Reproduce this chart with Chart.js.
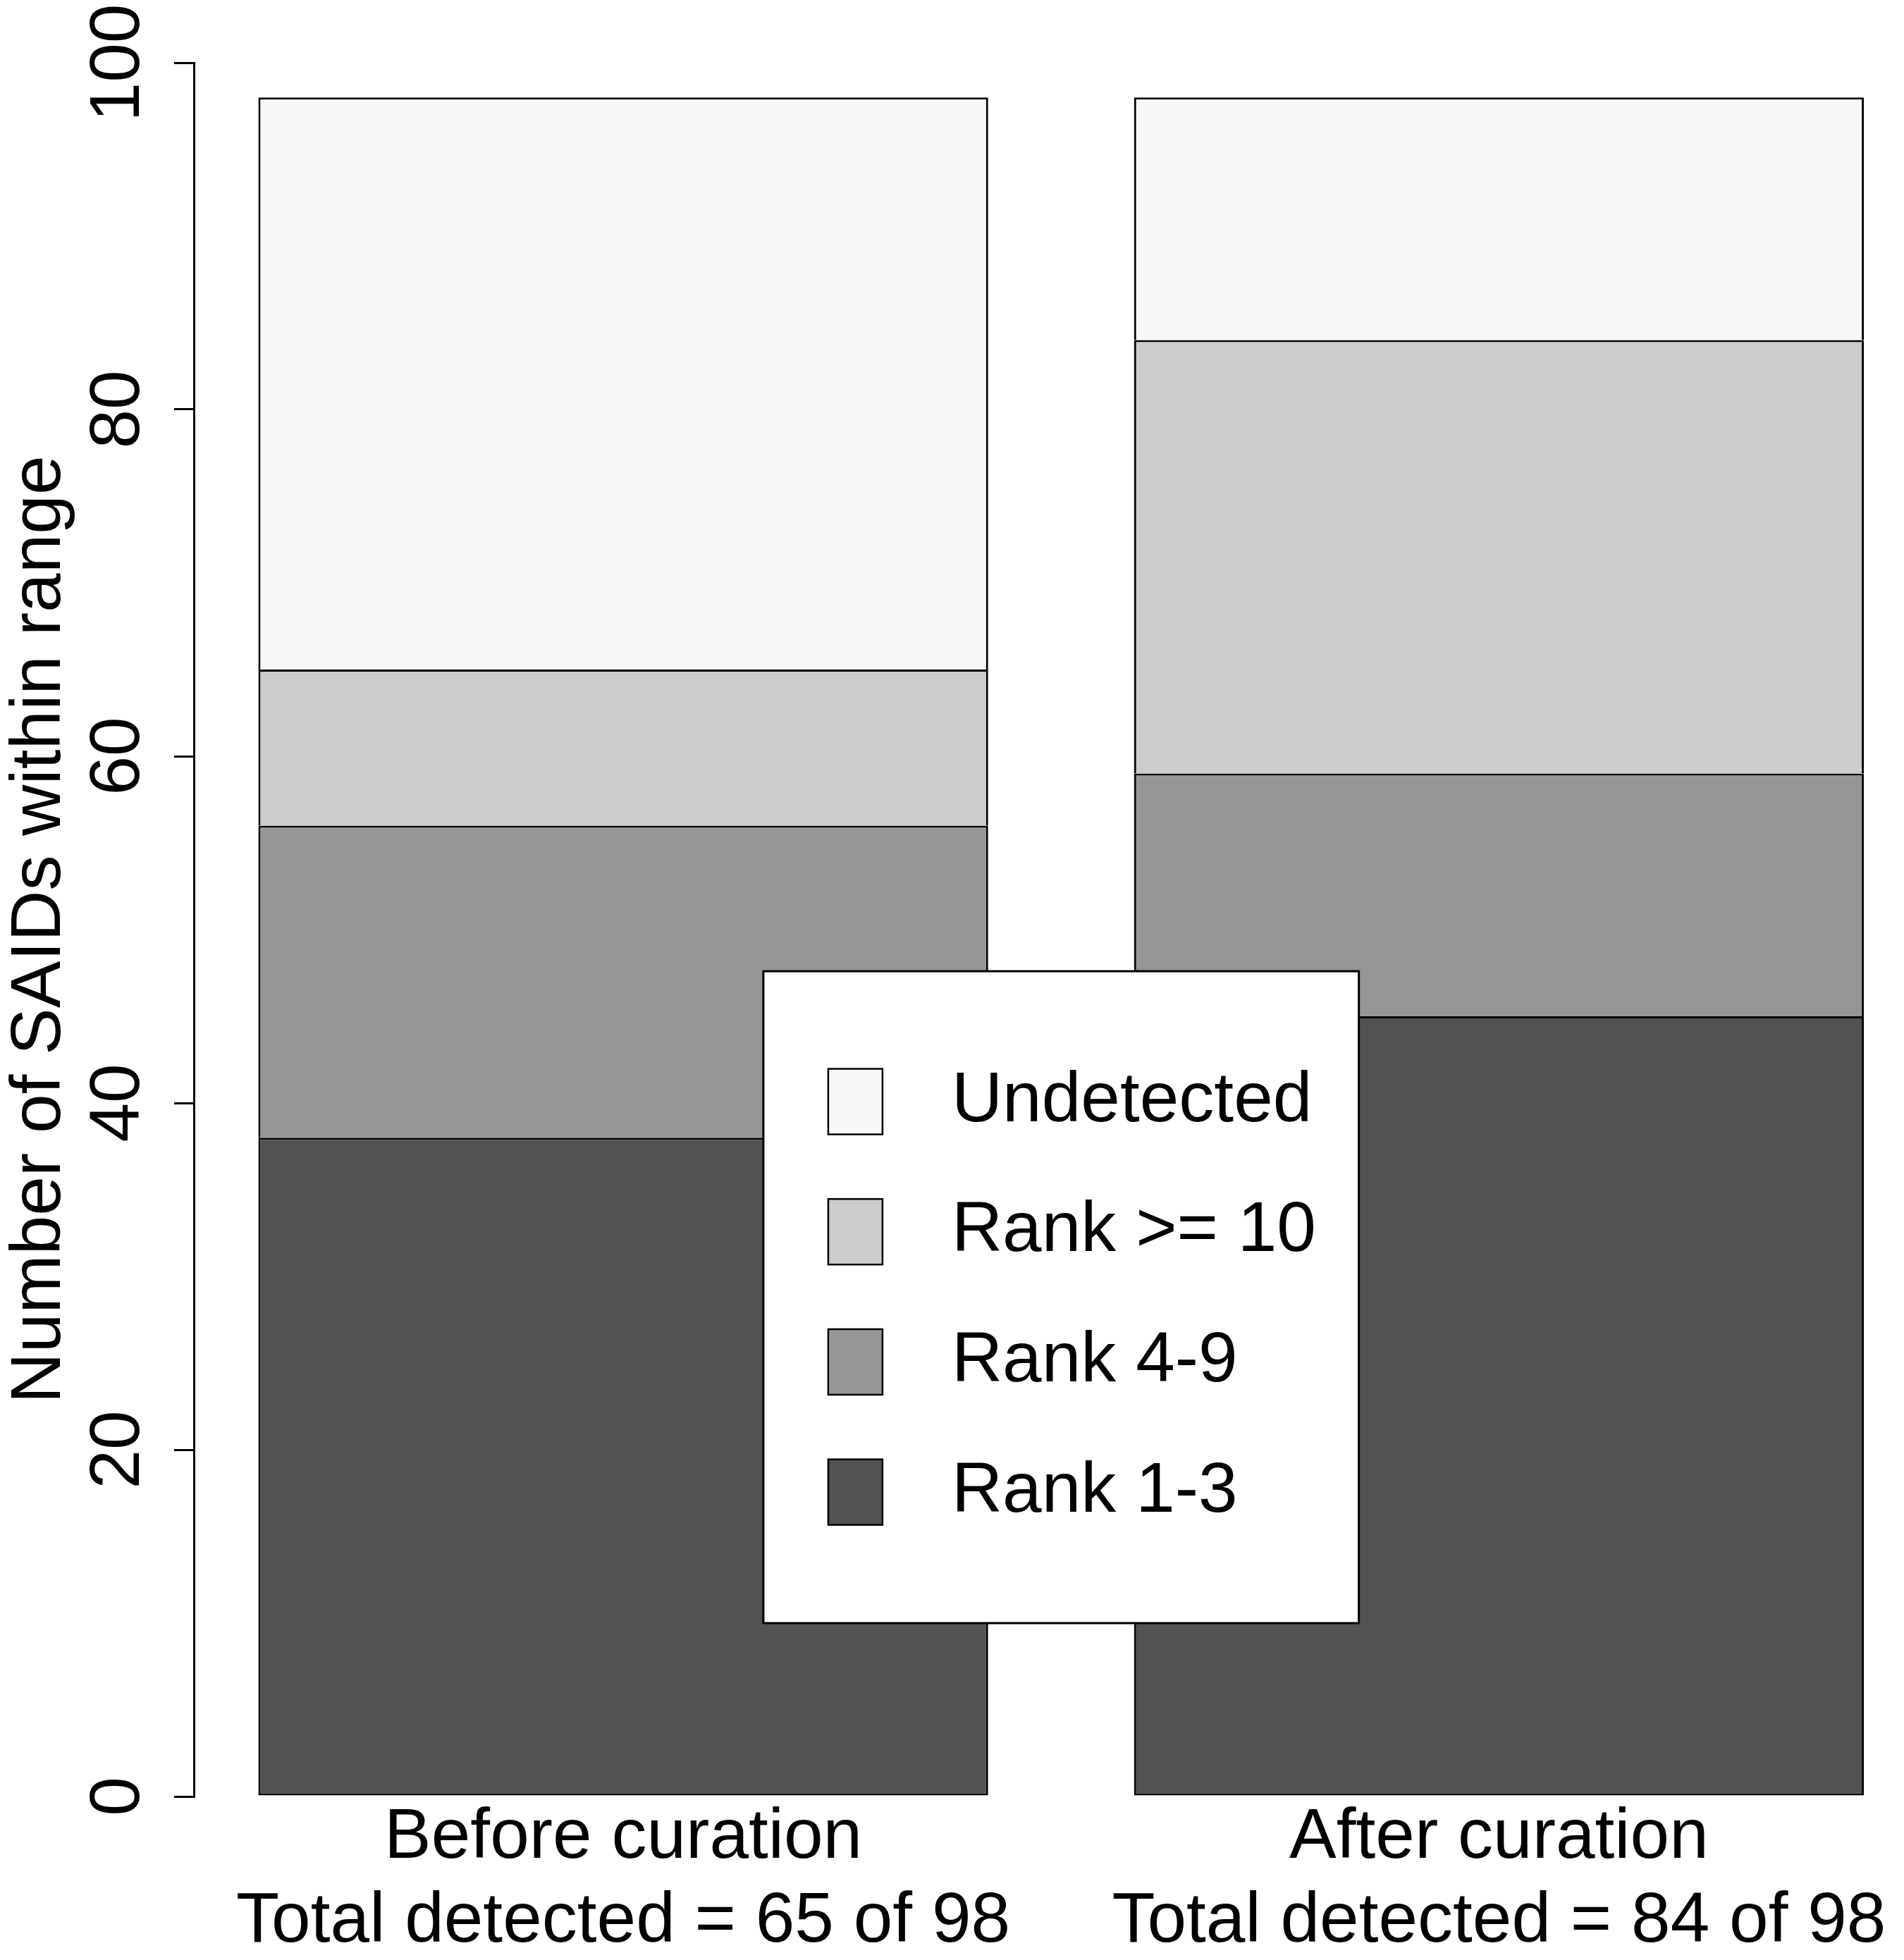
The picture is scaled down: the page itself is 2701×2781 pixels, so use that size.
<!DOCTYPE html>
<html>
<head>
<meta charset="utf-8">
<script src="https://cdn.jsdelivr.net/npm/chart.js@4/dist/chart.umd.min.js"></script>
<style>
html, body { margin: 0; padding: 0; background: #fff; }
canvas { display: block; }
</style>
</head>
<body>
<canvas id="chart" width="2701" height="2781"></canvas>
<script>
// bar midpoints, as R's barplot places them (width 1, space 0.2)
const groupPositions = [0.7, 1.9];
const groupLabels = [
    ['Before curation', 'Total detected = 65 of 98'],
    ['After curation', 'Total detected = 84 of 98'],
];
const seriesNames = ['Rank 1-3', 'Rank 4-9', 'Rank >= 10', 'Undetected'];
const rank1to3 = [38, 45];
const rank4to9 = [18, 14];
const rank10plus = [9, 25];
const undetected = [33, 14];
const yTicks = [0, 20, 40, 60, 80, 100];

const fills = ['#525252', '#969696', '#cccccc', '#f7f7f7'];
const FONT = '"Liberation Sans", Arial, Helvetica, sans-serif';

Chart.defaults.font.family = FONT;
Chart.defaults.color = '#000';

const seriesValues = [rank1to3, rank4to9, rank10plus, undetected];
// Chart.js draws borders inside each bar, so stacked segments skip their
// bottom edge (except the lowest) to keep one 3px line between them.
const datasets = seriesValues.map((vals, i) => ({
    label: seriesNames[i],
    data: vals.map((v, j) => ({ x: groupPositions[j], y: v })),
    backgroundColor: fills[i],
    borderColor: '#000',
    borderWidth: { top: 3, left: 3, right: 3, bottom: i === 0 ? 3 : 0 },
    borderSkipped: false,
    categoryPercentage: 1,
    barPercentage: 1 / 1.2,
}));

// Boxed legend in the middle of the plot, like R's legend(); box corners in data units.
const boxLegend = {
    id: 'boxLegend',
    afterDatasetsDraw(chart, args, opts) {
        const { ctx, scales: { x, y } } = chart;
        const left = x.getPixelForValue(opts.x0);
        const right = x.getPixelForValue(opts.x1);
        const top = y.getPixelForValue(opts.y1);
        const bottom = y.getPixelForValue(opts.y0);
        ctx.save();
        ctx.fillStyle = '#fff';
        ctx.fillRect(left, top, right - left, bottom - top);
        ctx.lineWidth = 3;
        ctx.strokeStyle = '#000';
        ctx.strokeRect(left, top, right - left, bottom - top);
        ctx.font = `100px ${FONT}`;
        ctx.textBaseline = 'middle';
        chart.data.datasets.slice().reverse().forEach((ds, i) => {
            const cy = top + opts.firstRow + i * opts.rowGap;
            ctx.fillStyle = ds.backgroundColor;
            ctx.fillRect(left + opts.swatchX, cy - opts.swatchH / 2, opts.swatchW, opts.swatchH);
            ctx.lineWidth = 2.5;
            ctx.strokeRect(left + opts.swatchX, cy - opts.swatchH / 2, opts.swatchW, opts.swatchH);
            ctx.fillStyle = '#000';
            ctx.fillText(ds.label, left + opts.textX, cy);
        });
        ctx.restore();
    },
};

new Chart(document.getElementById('chart'), {
    type: 'bar',
    data: { datasets },
    plugins: [boxLegend],
    options: {
        responsive: false,
        animation: false,
        devicePixelRatio: 1,
        layout: { padding: { top: 89, left: 0, right: 0, bottom: 0 } },
        plugins: {
            legend: { display: false },
            tooltip: { enabled: false },
            boxLegend: {
                x0: 0.892, x1: 1.708, y0: 10.0, y1: 47.6,
                swatchX: 92, swatchW: 77, swatchH: 93,
                textX: 267, firstRow: 185, rowGap: 184.7,
            },
        },
        scales: {
            x: {
                type: 'linear',
                stacked: true,
                offset: false,
                bounds: 'data',
                min: 0.1116,
                max: 2.455,
                grid: { display: false, drawTicks: false, offset: false },
                border: { display: false },
                afterBuildTicks: (scale) => { scale.ticks = groupPositions.map(v => ({ value: v })); },
                afterFit: (scale) => { scale.height = 232; },
                ticks: {
                    callback: (v, i) => groupLabels[i],
                    font: { size: 100, lineHeight: 1.19 },
                    color: '#000',
                    padding: 0,
                    maxRotation: 0,
                    autoSkip: false,
                },
            },
            y: {
                stacked: true,
                min: 0,
                max: 100,
                afterBuildTicks: (scale) => { scale.ticks = yTicks.map(v => ({ value: v })); },
                afterFit: (scale) => { scale.width = 275; },
                grid: { drawOnChartArea: false, drawTicks: true, tickLength: 28, color: '#000', lineWidth: 3 },
                border: { display: true, color: '#000', width: 3 },
                ticks: {
                    font: { size: 100 },
                    color: '#000',
                    minRotation: 90,
                    maxRotation: 90,
                    crossAlign: 'center',
                    padding: -6,
                    autoSkip: false,
                },
                title: {
                    display: true,
                    text: 'Number of SAIDs within range',
                    font: { size: 100, lineHeight: 1.15 },
                    color: '#000',
                    padding: 0,
                },
            },
        },
    },
});
</script>
</body>
</html>
